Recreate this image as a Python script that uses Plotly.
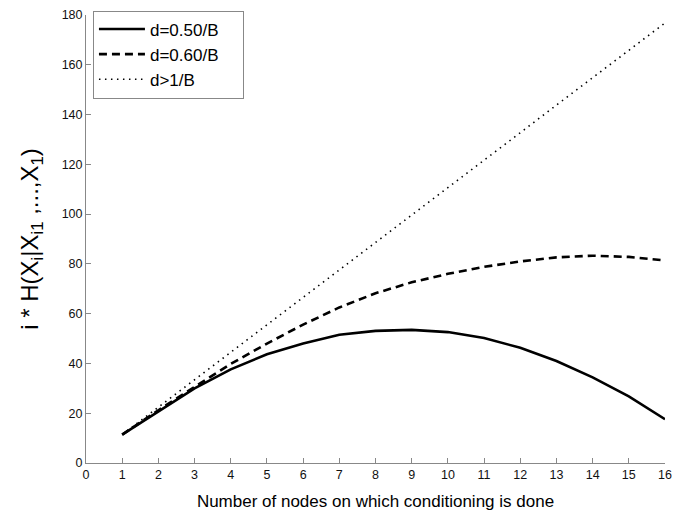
import plotly.graph_objects as go

nodes = list(range(1, 17))
d050 = [11.4, 20.8, 30.0, 37.6, 43.7, 48.0, 51.5, 53.1, 53.5, 52.6, 50.2, 46.3, 41.0, 34.4, 26.8, 17.6]
d060 = [11.4, 21.2, 30.6, 39.8, 48.0, 55.6, 62.5, 68.2, 72.6, 76.0, 78.8, 81.0, 82.6, 83.3, 82.8, 81.4]
dgt1 = [11.4, 22.4, 33.5, 44.5, 55.5, 66.6, 77.6, 88.6, 99.7, 110.7, 121.7, 132.7, 143.8, 154.8, 165.8, 176.8]
names = ["d=0.50/B&nbsp;&nbsp;&nbsp;&nbsp;", "d=0.60/B", "d>1/B"]
x_ticks = list(range(0, 17))
y_ticks = list(range(0, 181, 20))

fig = go.Figure()
fig.add_trace(go.Scatter(x=nodes, y=d050, mode="lines", name=names[0],
                         line=dict(color="black", width=2.6)))
fig.add_trace(go.Scatter(x=nodes, y=d060, mode="lines", name=names[1],
                         line=dict(color="black", width=2.6, dash="8px,5px")))
fig.add_trace(go.Scatter(x=nodes, y=dgt1, mode="lines", name=names[2],
                         line=dict(color="black", width=1.6, dash="1.5px,4.5px")))

axis_common = dict(showgrid=False, zeroline=False, showline=True, linecolor="#888888",
                   linewidth=1, ticks="inside", ticklen=5, tickcolor="#888888",
                   tickfont=dict(family="Liberation Sans, Arial, sans-serif", size=12.5, color="#111111"),
                   mirror=False)

fig.update_layout(
    width=700, height=516,
    margin=dict(l=86, r=35, t=8, b=52),
    paper_bgcolor="white", plot_bgcolor="white",
    font=dict(family="Liberation Sans, Arial, sans-serif", color="black"),
    xaxis=dict(range=[0, 16], tickvals=x_ticks,
               title=dict(text="Number of nodes on which conditioning is done",
                          font=dict(size=17), standoff=14),
               **axis_common),
    yaxis=dict(range=[0, 180], tickvals=y_ticks,
               title=dict(text="i * H(X<sub>i</sub>|X<sub>i1</sub> ,...,X<sub>1</sub>)",
                          font=dict(size=24), standoff=16),
               **axis_common),
    legend=dict(x=0.012, y=1.01, xanchor="left", yanchor="top",
                bgcolor="white", bordercolor="#888888", borderwidth=1,
                font=dict(size=17), tracegroupgap=0, itemwidth=46),
    showlegend=True,
)

fig.write_html("out.html")
